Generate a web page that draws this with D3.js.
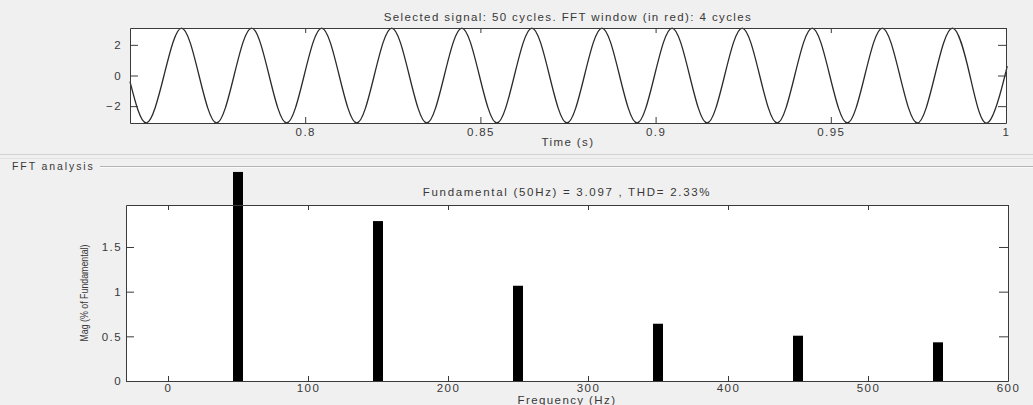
<!DOCTYPE html>
<html>
<head>
<meta charset="utf-8">
<script src="https://cdn.jsdelivr.net/npm/d3@7"></script>
<style>
  body { margin: 0; background: #f0f0f0; }
  svg text { font-family: "Liberation Sans", Arial, sans-serif; fill: #383838; }
</style>
</head>
<body>
<div id="chart"></div>
<script>
// signal samples: [time (s), value]
const signalPoints = [
  [0.75, -0.4],
  [0.7547, -3.097], [0.7597, 0], [0.7647, 3.097], [0.7697, 0],
  [0.7747, -3.097], [0.7797, 0], [0.7847, 3.097], [0.7897, 0],
  [0.7947, -3.097], [0.7997, 0], [0.8047, 3.097], [0.8097, 0],
  [0.8147, -3.097], [0.8197, 0], [0.8247, 3.097], [0.8297, 0],
  [0.8347, -3.097], [0.8397, 0], [0.8447, 3.097], [0.8497, 0],
  [0.8547, -3.097], [0.8597, 0], [0.8647, 3.097], [0.8697, 0],
  [0.8747, -3.097], [0.8797, 0], [0.8847, 3.097], [0.8897, 0],
  [0.8947, -3.097], [0.8997, 0], [0.9047, 3.097], [0.9097, 0],
  [0.9147, -3.097], [0.9197, 0], [0.9247, 3.097], [0.9297, 0],
  [0.9347, -3.097], [0.9397, 0], [0.9447, 3.097], [0.9497, 0],
  [0.9547, -3.097], [0.9597, 0], [0.9647, 3.097], [0.9697, 0],
  [0.9747, -3.097], [0.9797, 0], [0.9847, 3.097], [0.9897, 0],
  [0.9947, -3.097], [0.9997, 0], [1.0, 0.29]
];

// harmonic spectrum, % of fundamental
const harmonicFreqs = [50, 150, 250, 350, 450, 550];
const harmonicMags = [100, 1.79, 1.066, 0.641, 0.507, 0.433];
const barVisibleMax = 2.34; // the fundamental bar is cut off here

const timeTicks = [0.8, 0.85, 0.9, 0.95, 1];
const signalTicks = [-2, 0, 2];
const freqTicks = [0, 100, 200, 300, 400, 500, 600];
const magTicks = [0, 0.5, 1, 1.5];

const topTitle = "Selected signal: 50 cycles. FFT window (in red): 4 cycles";
const fftTitle = "Fundamental (50Hz) = 3.097 , THD= 2.33%";

const W = 1033, H = 405;
const svg = d3.select("#chart").append("svg")
  .attr("width", W).attr("height", H);

svg.append("rect").attr("width", W).attr("height", H).attr("fill", "#f0f0f0");

// panel separators
svg.append("line").attr("x1", 0).attr("x2", W).attr("y1", 154.5).attr("y2", 154.5)
  .attr("stroke", "#d2d2d2");
svg.append("line").attr("x1", 0).attr("x2", W).attr("y1", 158.5).attr("y2", 158.5)
  .attr("stroke", "#e2e2e2");
svg.append("line").attr("x1", 100).attr("x2", W).attr("y1", 166.5).attr("y2", 166.5)
  .attr("stroke", "#b4b4b4");
svg.append("line").attr("x1", 100).attr("x2", W).attr("y1", 167.5).attr("y2", 167.5)
  .attr("stroke", "#fafafa");
svg.append("text").attr("x", 12).attr("y", 169.5)
  .style("font-size", "10.5px").style("letter-spacing", "1.9px")
  .text("FFT analysis");

function styleAxis(g) {
  g.selectAll("path, line").attr("stroke", "#3a3a3a");
  g.selectAll("text").style("font-size", "11.5px").style("letter-spacing", "1.4px")
    .attr("fill", "#383838");
}

// ---- top: time signal ----
const sigBox = { left: 130, right: 1006, top: 28, bottom: 123 };
const xT = d3.scaleLinear().domain([0.75, 1]).range([sigBox.left, sigBox.right]);
const yT = d3.scaleLinear().domain([-3.1, 3.1]).range([sigBox.bottom, sigBox.top]);

svg.append("rect")
  .attr("x", sigBox.left).attr("y", sigBox.top)
  .attr("width", sigBox.right - sigBox.left).attr("height", sigBox.bottom - sigBox.top)
  .attr("fill", "#fff");

svg.append("path")
  .datum(signalPoints)
  .attr("fill", "none")
  .attr("stroke", "#2a2a2a")
  .attr("stroke-width", 1.3)
  .attr("d", d3.line().x(d => xT(d[0])).y(d => yT(d[1])).curve(d3.curveNatural));

svg.append("g").attr("transform", `translate(0,${sigBox.bottom})`)
  .call(d3.axisBottom(xT).tickValues(timeTicks).tickFormat(d3.format("~g"))
    .tickSizeInner(-6).tickSizeOuter(0).tickPadding(5))
  .call(styleAxis);
svg.append("g").attr("transform", `translate(0,${sigBox.top})`)
  .call(d3.axisTop(xT).tickValues(timeTicks).tickFormat("")
    .tickSizeInner(-5).tickSizeOuter(0))
  .call(styleAxis);
svg.append("g").attr("transform", `translate(${sigBox.left},0)`)
  .call(d3.axisLeft(yT).tickValues(signalTicks).tickFormat(d3.format("~g"))
    .tickSizeInner(-8).tickSizeOuter(0).tickPadding(8))
  .call(styleAxis);
svg.append("g").attr("transform", `translate(${sigBox.right},0)`)
  .call(d3.axisRight(yT).tickValues(signalTicks).tickFormat("")
    .tickSizeInner(-8).tickSizeOuter(0))
  .call(styleAxis);

svg.append("text").attr("x", (sigBox.left + sigBox.right) / 2).attr("y", 21)
  .attr("text-anchor", "middle")
  .style("font-size", "11.5px").style("letter-spacing", "1.4px")
  .text(topTitle);
svg.append("text").attr("x", (sigBox.left + sigBox.right) / 2).attr("y", 146)
  .attr("text-anchor", "middle")
  .style("font-size", "11.5px").style("letter-spacing", "1.4px")
  .text("Time (s)");

// ---- bottom: FFT bars ----
const fftBox = { left: 126, right: 1008, top: 205, bottom: 381 };
const xF = d3.scaleLinear().domain([-30, 600]).range([fftBox.left, fftBox.right]);
const yF = d3.scaleLinear().domain([0, 1.97]).range([fftBox.bottom, fftBox.top]);

svg.append("rect")
  .attr("x", fftBox.left).attr("y", fftBox.top)
  .attr("width", fftBox.right - fftBox.left).attr("height", fftBox.bottom - fftBox.top)
  .attr("fill", "#fff");

const barW = 10;
const bars = harmonicFreqs.map((f, i) => ({ freq: f, val: harmonicMags[i] }));
svg.append("g").selectAll("rect")
  .data(bars)
  .enter()
  .append("rect")
  .attr("x", d => xF(d.freq) - barW / 2)
  .attr("y", d => yF(Math.min(d.val, barVisibleMax)))
  .attr("width", barW)
  .attr("height", d => yF(0) - yF(Math.min(d.val, barVisibleMax)))
  .attr("fill", "#000");

svg.append("g").attr("transform", `translate(0,${fftBox.bottom})`)
  .call(d3.axisBottom(xF).tickValues(freqTicks).tickFormat(d3.format("d"))
    .tickSizeInner(-5).tickSizeOuter(0).tickPadding(3))
  .call(styleAxis);
svg.append("g").attr("transform", `translate(0,${fftBox.top})`)
  .call(d3.axisTop(xF).tickValues(freqTicks).tickFormat("")
    .tickSizeInner(-5).tickSizeOuter(0))
  .call(styleAxis);
svg.append("g").attr("transform", `translate(${fftBox.left},0)`)
  .call(d3.axisLeft(yF).tickValues(magTicks).tickFormat(d3.format("~g"))
    .tickSizeInner(-8).tickSizeOuter(0).tickPadding(4))
  .call(styleAxis);
svg.append("g").attr("transform", `translate(${fftBox.right},0)`)
  .call(d3.axisRight(yF).tickValues(magTicks).tickFormat("")
    .tickSizeInner(-9).tickSizeOuter(0))
  .call(styleAxis);

svg.append("text").attr("x", (fftBox.left + fftBox.right) / 2).attr("y", 196)
  .attr("text-anchor", "middle")
  .style("font-size", "11.5px").style("letter-spacing", "1.7px")
  .text(fftTitle);
svg.append("text").attr("x", (fftBox.left + fftBox.right) / 2).attr("y", 404)
  .attr("text-anchor", "middle")
  .style("font-size", "11.5px").style("letter-spacing", "1.4px")
  .text("Frequency (Hz)");
svg.append("text")
  .attr("transform", `translate(88,${(fftBox.top + fftBox.bottom) / 2}) rotate(-90)`)
  .attr("text-anchor", "middle")
  .attr("textLength", 97).attr("lengthAdjust", "spacingAndGlyphs")
  .style("font-size", "10px")
  .text("Mag (% of Fundamental)");
</script>
</body>
</html>
